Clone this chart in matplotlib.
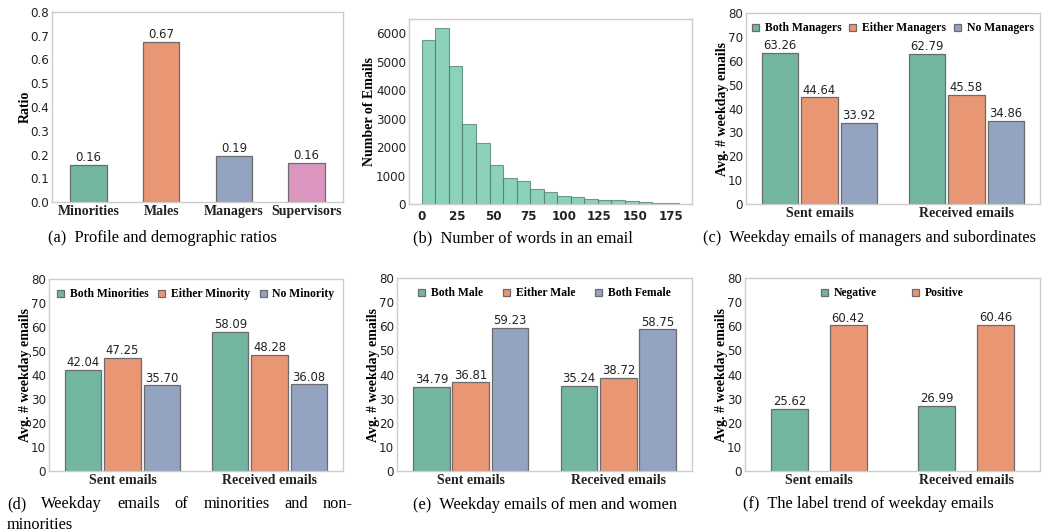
import numpy as np
import matplotlib
matplotlib.use("Agg")
import matplotlib.pyplot as plt
import seaborn as sns

# ---- data ----
profile_labels = ["Minorities", "Males", "Managers", "Supervisors"]
profile_ratios = [0.157, 0.674, 0.194, 0.164]

word_hist_range = (0, 181)
word_hist_counts = [5780, 6200, 4860, 2830, 2140, 1385, 915, 800, 516, 423,
                    282, 258, 176, 141, 141, 106, 70, 47, 23]

groups = ["Sent emails", "Received emails"]

mgr_labels = ["Both Managers", "Either Managers", "No Managers"]
mgr_sent = [63.26, 44.64, 33.92]
mgr_recv = [62.79, 45.58, 34.86]

min_labels = ["Both Minorities", "Either Minority", "No Minority"]
min_sent = [42.04, 47.25, 35.70]
min_recv = [58.09, 48.28, 36.08]

gen_labels = ["Both Male", "Either Male", "Both Female"]
gen_sent = [34.79, 36.81, 59.23]
gen_recv = [35.24, 38.72, 58.75]

lab_labels = ["Negative", "Positive"]
lab_sent = [25.62, 60.42]
lab_recv = [26.99, 60.46]

captions = {
    "a": "(a)  Profile and demographic ratios",
    "b": "(b)  Number of words in an email",
    "c": "(c)  Weekday emails of managers and subordinates",
    "e": "(e)  Weekday emails of men and women",
    "f": "(f)  The label trend of weekday emails",
}
caption_d = ["(d)", "Weekday", "emails", "of", "minorities", "and", "non-"]
caption_d2 = "minorities"

# ---- style ----
W, H = 1058, 532
pal = sns.color_palette("Set2", desat=0.75)
raw = sns.color_palette("Set2")
SERIF = "Liberation Serif"
SPINE = "#cccccc"
EDGE = "#6b6b6b"
TICK_FS = 8.6
LABEL_FS = 8.4
BOLD_FS = 10
CAP_FS = 11.8

fig = plt.figure(figsize=(W / 100, H / 100), dpi=100)


def px_axes(l, t, r, b):
    return fig.add_axes([l / W, 1 - b / H, (r - l) / W, (b - t) / H])


def style(ax):
    for s in ax.spines.values():
        s.set_color(SPINE)
        s.set_linewidth(1.0)
    ax.tick_params(length=0, pad=2, labelsize=TICK_FS, colors="#222222")


def bold_xticks(ax, labels):
    ax.set_xticklabels(labels, fontfamily=SERIF, fontweight="bold",
                       fontsize=BOLD_FS)


def grouped(ax, labels, sent, recv, colspace):
    style(ax)
    n = len(labels)
    if n == 3:
        offs = [-0.267, 0.0, 0.267]
    else:
        offs = [-0.2, 0.2]
    x = np.arange(len(groups))
    for i in range(n):
        bars = ax.bar(x + offs[i], [sent[i], recv[i]], width=0.248,
                      color=pal[i], edgecolor=EDGE, linewidth=0.9,
                      label=labels[i])
        ax.bar_label(bars, fmt="%.2f", padding=0.5, fontsize=LABEL_FS,
                     color="#222222")
    ax.set_xlim(-0.5, 1.5)
    ax.set_ylim(0, 80)
    ax.set_yticks(range(0, 81, 10))
    ax.set_xticks(x)
    bold_xticks(ax, groups)
    ax.set_ylabel("Avg. # weekday emails", fontfamily=SERIF,
                  fontweight="bold", fontsize=BOLD_FS, labelpad=-1)
    ax.legend(loc="upper center", ncol=n, frameon=False,
              prop={"family": SERIF, "weight": "bold", "size": 8.4},
              handlelength=0.6, handleheight=0.6, handletextpad=0.5,
              columnspacing=colspace, borderaxespad=0.4)


# (a) profile ratios
ax = px_axes(52, 12, 343, 202)
style(ax)
bars = ax.bar(range(len(profile_labels)), profile_ratios, width=0.5,
              color=pal[:4], edgecolor=EDGE, linewidth=0.9)
ax.bar_label(bars, fmt="%.2f", padding=0.5, fontsize=LABEL_FS, color="#222222")
ax.set_xlim(-0.5, 3.5)
ax.set_ylim(0, 0.8)
ax.set_yticks(np.arange(0, 0.81, 0.1))
ax.set_yticklabels([f"{v:.1f}" for v in np.arange(0, 0.81, 0.1)])
ax.set_xticks(range(len(profile_labels)))
bold_xticks(ax, profile_labels)
ax.set_ylabel("Ratio", fontfamily=SERIF, fontweight="bold", fontsize=BOLD_FS,
              labelpad=-1)

# (b) words histogram
ax = px_axes(409, 19, 692, 204)
style(ax)
edges = np.linspace(word_hist_range[0], word_hist_range[1],
                    len(word_hist_counts) + 1)
centers = (edges[:-1] + edges[1:]) / 2
ax.hist(centers, bins=edges, weights=word_hist_counts, color=raw[0],
        alpha=0.75, edgecolor="#4f7d6f", linewidth=0.8)
ax.set_xticks(range(0, 176, 25))
ax.set_ylabel("Number of Emails", fontfamily=SERIF, fontweight="bold",
              fontsize=BOLD_FS, labelpad=0)
for t in ax.get_xticklabels():
    t.set_fontweight("bold")
ax.tick_params(axis="x", pad=4)

# (c)-(f) grouped bars
grouped(px_axes(746, 13, 1040, 204), mgr_labels, mgr_sent, mgr_recv, 0.7)
grouped(px_axes(49, 279, 343, 471), min_labels, min_sent, min_recv, 0.8)
grouped(px_axes(397, 278, 692, 471), gen_labels, gen_sent, gen_recv, 1.7)
grouped(px_axes(745, 278, 1040, 471), lab_labels, lab_sent, lab_recv, 3.0)

# captions
cap_pos = {"a": (48, 238), "b": (413, 238), "c": (703, 238),
           "e": (413, 505), "f": (743, 504)}
for k, (x, y) in cap_pos.items():
    fig.text(x / W, 1 - y / H, captions[k], fontfamily=SERIF, fontsize=CAP_FS,
             ha="left", va="center")

# (d) caption: justified first line
words = [fig.text(0, 1 - 504 / H, w, fontfamily=SERIF, fontsize=CAP_FS,
                  ha="left", va="center") for w in caption_d]
fig.canvas.draw()
r = fig.canvas.get_renderer()
widths = [t.get_window_extent(r).width for t in words]
x0, x1 = 7, 353
gap = (x1 - x0 - sum(widths)) / (len(words) - 1)
x = x0
for t, w in zip(words, widths):
    t.set_x(x / W)
    x += w + gap
fig.text(x0 / W, 1 - 525 / H, caption_d2, fontfamily=SERIF, fontsize=CAP_FS,
         ha="left", va="center")

fig.savefig("out.png", dpi=100)
